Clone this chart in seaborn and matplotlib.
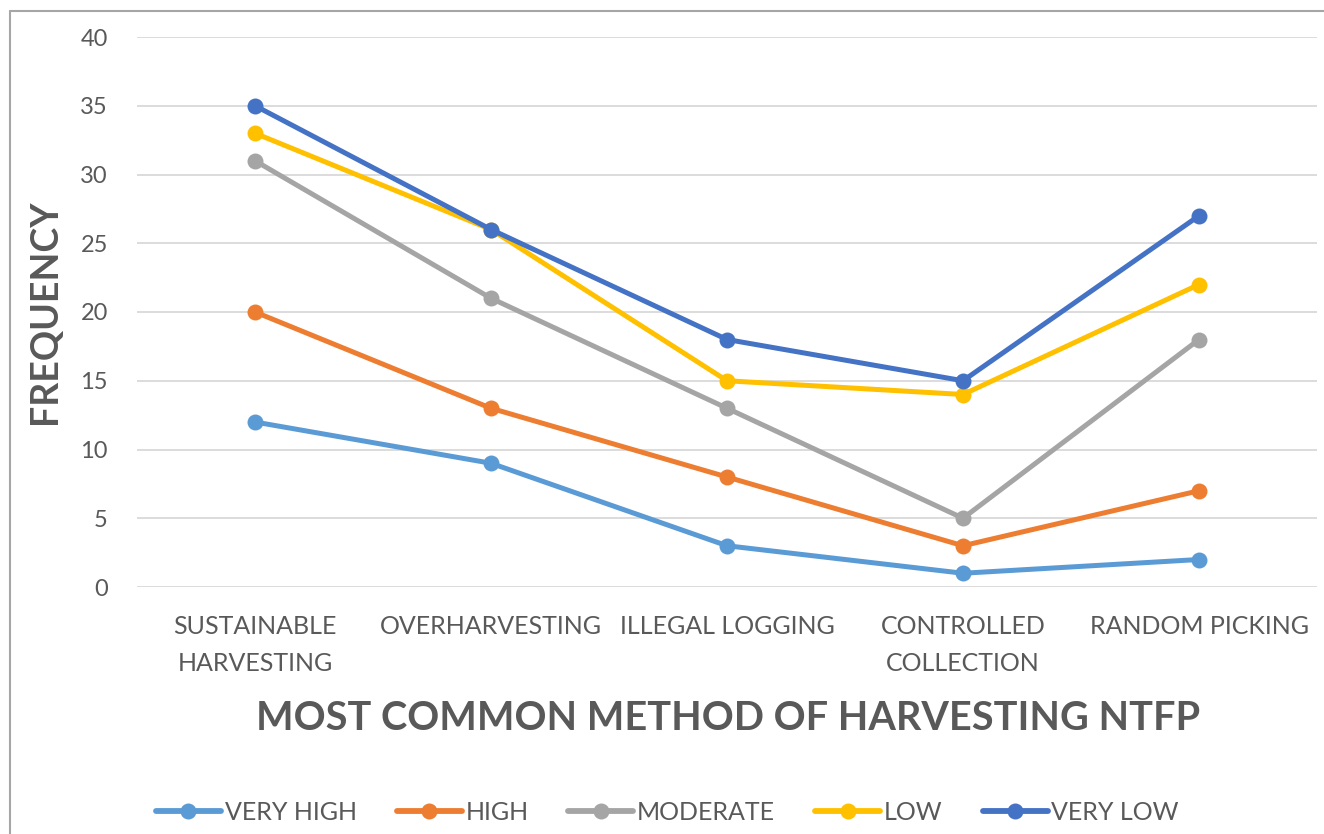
import matplotlib
matplotlib.use("Agg")
import matplotlib.pyplot as plt
from matplotlib.lines import Line2D
import seaborn as sns
import pandas as pd

# Harvesting methods (x categories) and frequency per intensity level
methods = ["SUSTAINABLE\nHARVESTING", "OVERHARVESTING", "ILLEGAL LOGGING",
           "CONTROLLED\nCOLLECTION", "RANDOM PICKING"]
levels = ["VERY HIGH", "HIGH", "MODERATE", "LOW", "VERY LOW"]
very_high = [12, 9, 3, 1, 2]
high = [20, 13, 8, 3, 7]
moderate = [31, 21, 13, 5, 18]
low = [33, 26, 15, 14, 22]
very_low = [35, 26, 18, 15, 27]
y_ticks = [0, 5, 10, 15, 20, 25, 30, 35, 40]

colors = ["#5B9BD5", "#ED7D31", "#A5A5A5", "#FFC000", "#4472C4"]
text_color = "#595959"

series = [very_high, high, moderate, low, very_low]
df = pd.DataFrame(
    [(m, lvl, v) for lvl, vals in zip(levels, series) for m, v in zip(methods, vals)],
    columns=["method", "level", "frequency"],
)

sns.set_theme(style="white")
plt.rcParams["font.family"] = ["Lato", "DejaVu Sans"]

fig = plt.figure(figsize=(13.24, 8.34), dpi=100)
ax = fig.add_axes([137 / 1324, 1 - 587 / 834, (1317 - 137) / 1324, (587 - 37) / 834])

sns.lineplot(
    data=df, x="method", y="frequency", hue="level", hue_order=levels,
    palette=colors, marker="o", markersize=11.5, markeredgewidth=0,
    linewidth=3.6, sort=False, ax=ax, legend=False,
)

ax.set_xlim(-0.5, len(methods) - 0.5)
ax.set_ylim(0, 40)
ax.set_yticks(y_ticks)
ax.set_xticks(range(len(methods)))
ax.set_xticklabels(methods, linespacing=1.75)
ax.yaxis.grid(True, color="#D9D9D9", linewidth=1.3)
ax.set_axisbelow(True)
for s in ax.spines.values():
    s.set_visible(False)
ax.tick_params(axis="both", length=0, labelcolor=text_color)
ax.tick_params(axis="y", pad=21, labelsize=17)
ax.tick_params(axis="x", pad=20, labelsize=18)
ax.set_xlabel("")
ax.set_ylabel("")

fig.text(0.5 * (258 + 1198) / 1324, 1 - 718 / 834,
         "MOST COMMON METHOD OF HARVESTING NTFP",
         ha="center", va="center", fontsize=28.5, fontweight="bold", color=text_color)
fig.text(45 / 1324, 1 - 312 / 834, "FREQUENCY", rotation=90,
         ha="center", va="center", fontsize=27, fontweight="bold", color=text_color)

handles = [Line2D([], [], color=c, linewidth=4.2, marker="o", markersize=11.5,
                  markeredgewidth=0) for c in colors]
fig.legend(handles, levels, loc="center", bbox_to_anchor=(0.504, 1 - 812 / 834),
           ncol=5, frameon=False, fontsize=18, handlelength=2.6,
           handletextpad=0.15, columnspacing=1.6, labelcolor=text_color)

# Outer frame on the top and left edges
fig.add_artist(Line2D([10 / 1324, 1.0], [1 - 11 / 834, 1 - 11 / 834],
                      transform=fig.transFigure, color="#A6A6A6", linewidth=1.5))
fig.add_artist(Line2D([10 / 1324, 10 / 1324], [0.0, 1 - 11 / 834],
                      transform=fig.transFigure, color="#A6A6A6", linewidth=1.5))

fig.savefig("out.png", dpi=100)
